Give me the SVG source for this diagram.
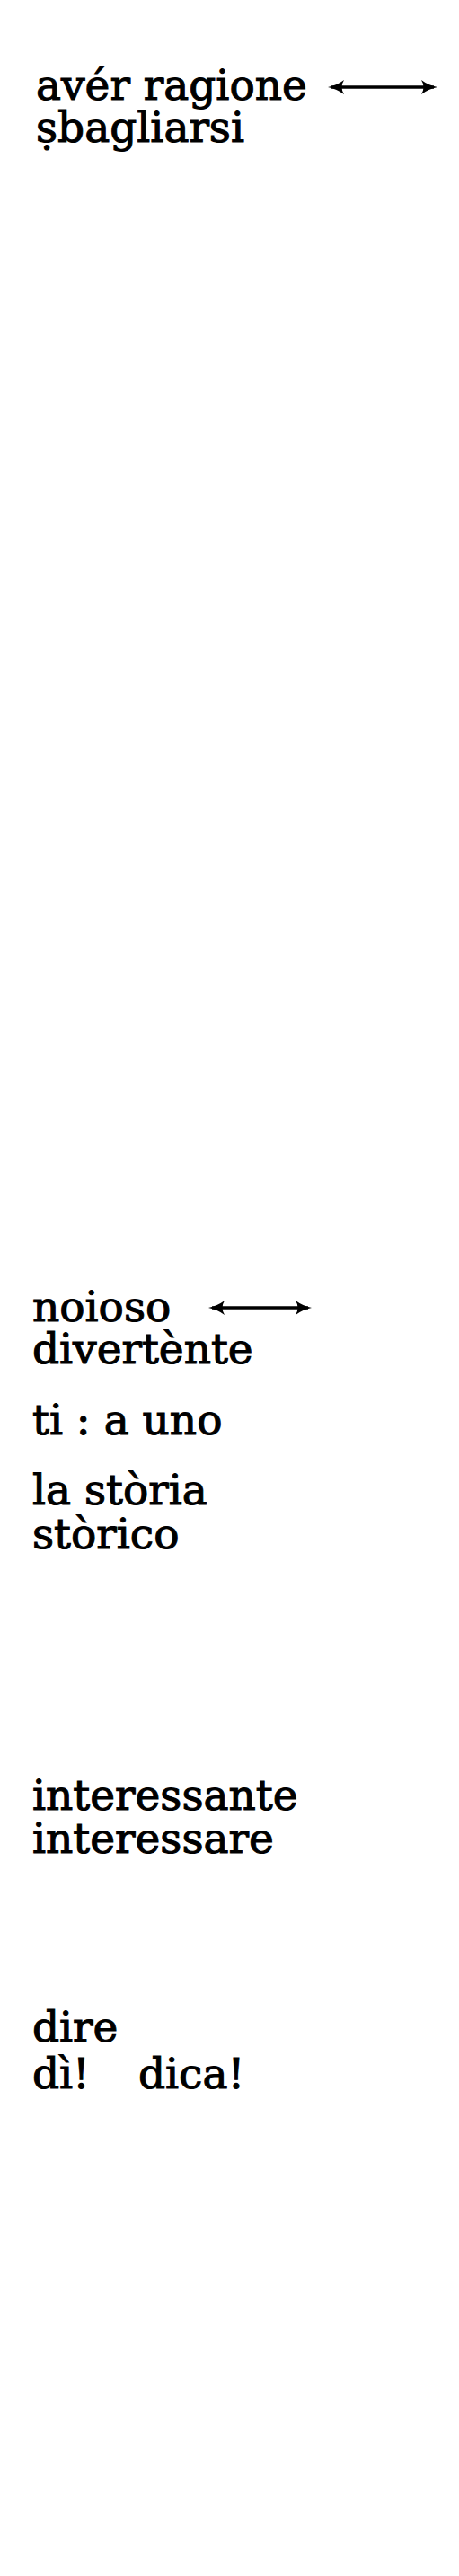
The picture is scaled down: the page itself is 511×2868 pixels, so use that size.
<svg xmlns="http://www.w3.org/2000/svg" width="511" height="2868" viewBox="0 0 511 2868">
  <style>
    .t { font-family: "DejaVu Serif", "Liberation Serif", serif; font-size: 47px; fill: #000; stroke: #000; stroke-width: 1.1; }
    .arr { stroke: #000; stroke-width: 3.5; fill: none; marker-start: url(#head); marker-end: url(#head); }
  </style>
  <defs>
    <marker id="head" viewBox="0 0 18 18" refX="14" refY="9" markerWidth="18" markerHeight="18" markerUnits="userSpaceOnUse" orient="auto-start-reverse">
      <path d="M0,1 Q8,7 18,9 Q8,11 0,17 Q5,9 0,1 Z" fill="#000"/>
    </marker>
  </defs>
  <rect width="511" height="2868" fill="#fff"/>
  <g id="connectors">
    <line class="arr" x1="369" y1="97" x2="483" y2="97"/>
    <line class="arr" x1="236" y1="1456" x2="343" y2="1456"/>
  </g>
  <g id="aver-ragione"><text class="t" x="40" y="111">avér ragione</text></g>
  <g id="sbagliarsi"><text class="t" x="40" y="158">ṣbagliarsi</text></g>
  <g id="noioso"><text class="t" x="36" y="1471">noioso</text></g>
  <g id="divertente"><text class="t" x="36" y="1518">divertènte</text></g>
  <g id="ti-a-uno"><text class="t" x="36" y="1597">ti : a uno</text></g>
  <g id="la-storia"><text class="t" x="36" y="1675">la stòria</text></g>
  <g id="storico"><text class="t" x="36" y="1724">stòrico</text></g>
  <g id="interessante"><text class="t" x="36" y="2015">interessante</text></g>
  <g id="interessare"><text class="t" x="36" y="2063">interessare</text></g>
  <g id="dire"><text class="t" x="36" y="2273">dire</text></g>
  <g id="di-dica"><text class="t" x="36" y="2325">dì!<tspan x="154">dica!</tspan></text></g>
</svg>
